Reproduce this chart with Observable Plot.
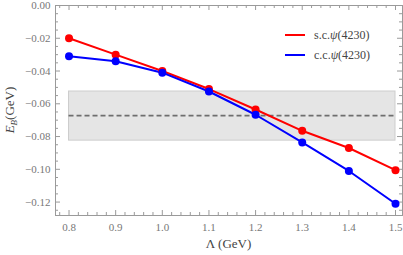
<!DOCTYPE html>
<html><head><meta charset="utf-8">
<script src="https://cdn.jsdelivr.net/npm/d3@7"></script>
<script src="https://cdn.jsdelivr.net/npm/@observablehq/plot@0.6"></script>
<style>body{margin:0;background:#fff} #chart{width:403px;height:255px}</style>
</head><body><div id="chart"></div>
<script>
const lambda = [0.8, 0.9, 1.0, 1.1, 1.2, 1.3, 1.4, 1.5];
const scValues = [-0.020, -0.030, -0.040, -0.051, -0.0635, -0.0765, -0.087, -0.1005];
const ccValues = [-0.031, -0.034, -0.041, -0.0525, -0.0667, -0.0836, -0.101, -0.121];
const seriesNames = ["s.c.", "c.c."];
const seriesLabel = "ψ(4230)";
const seriesColors = ["#ff0000", "#0000ff"];
const bandLow = -0.0825, bandHigh = -0.0525, bandMid = -0.0672;
const xTicks = [0.8, 0.9, 1.0, 1.1, 1.2, 1.3, 1.4, 1.5];
const yTicks = [0, -0.02, -0.04, -0.06, -0.08, -0.10, -0.12];

const xDomain = [0.771, 1.515];
const yDomain = [-0.1282, 0];
const W = 403, H = 255, mL = 55, mR = 1, mT = 5, mB = 40;

const data = [];
lambda.forEach((l, i) => {
  data.push({lambda: l, E: scValues[i], s: seriesNames[0]});
  data.push({lambda: l, E: ccValues[i], s: seriesNames[1]});
});
const band = [{x1: lambda[0], x2: lambda[lambda.length - 1], y1: bandLow, y2: bandHigh}];

const xMinor = d3.range(78, 151, 2).map(v => v / 100).filter(v => !xTicks.some(t => Math.abs(t - v) < 1e-9));
const yMinor = d3.range(-125, 1, 5).map(v => v / 1000).filter(v => !yTicks.some(t => Math.abs(t - v) < 1e-9));

const yPerPx = (yDomain[1] - yDomain[0]) / (H - mT - mB);
const xPerPx = (xDomain[1] - xDomain[0]) / (W - mL - mR);
const major = 5, minor = 3;
const axisColor = "#9a9a9a";

const chart = Plot.plot({
  width: W, height: H,
  marginLeft: mL, marginRight: mR, marginTop: mT, marginBottom: mB,
  style: {fontFamily: "'Liberation Serif', serif", fontSize: "11px", color: "#777", background: "#fff"},
  x: {domain: xDomain, label: null},
  y: {domain: yDomain, label: null},
  color: {domain: seriesNames, range: seriesColors},
  marks: [
    Plot.rect(band, {x1: "x1", x2: "x2", y1: "y1", y2: "y2", fill: "#e5e5e5", stroke: "#cdcdcd", strokeWidth: 1}),
    Plot.ruleY([bandMid], {x1: lambda[0], x2: lambda[lambda.length - 1], stroke: "#6e6e6e", strokeWidth: 1.6, strokeDasharray: "5,3"}),
    // ticks inward on all four sides
    Plot.ruleX(xTicks, {x: d => d, y1: yDomain[0], y2: yDomain[0] + major * yPerPx, stroke: axisColor}),
    Plot.ruleX(xMinor, {x: d => d, y1: yDomain[0], y2: yDomain[0] + minor * yPerPx, stroke: axisColor}),
    Plot.ruleX(xTicks, {x: d => d, y1: yDomain[1], y2: yDomain[1] - major * yPerPx, stroke: axisColor}),
    Plot.ruleX(xMinor, {x: d => d, y1: yDomain[1], y2: yDomain[1] - minor * yPerPx, stroke: axisColor}),
    Plot.ruleY(yTicks, {y: d => d, x1: xDomain[0], x2: xDomain[0] + major * xPerPx, stroke: axisColor}),
    Plot.ruleY(yMinor, {y: d => d, x1: xDomain[0], x2: xDomain[0] + minor * xPerPx, stroke: axisColor}),
    Plot.ruleY(yTicks, {y: d => d, x1: xDomain[1], x2: xDomain[1] - major * xPerPx, stroke: axisColor}),
    Plot.ruleY(yMinor, {y: d => d, x1: xDomain[1], x2: xDomain[1] - minor * xPerPx, stroke: axisColor}),
    Plot.axisX({ticks: xTicks, tickSize: 0, tickPadding: 8, tickFormat: d3.format(".1f"), fill: "#777"}),
    Plot.axisY({ticks: yTicks, tickSize: 0, tickPadding: 5, tickFormat: d => d === 0 ? "0.00" : d3.format(".2f")(d).replace("-", "−"), fill: "#777"}),
    Plot.frame({stroke: axisColor}),
    Plot.line(data, {x: "lambda", y: "E", stroke: "s", strokeWidth: 2}),
    Plot.dot(data, {x: "lambda", y: "E", fill: "s", r: 4})
  ]
});
document.getElementById("chart").appendChild(chart);

const svg = d3.select(chart);
// x label
svg.append("text").attr("x", (mL + W - mR) / 2).attr("y", 248)
  .attr("text-anchor", "middle").attr("font-family", "'Liberation Serif', serif")
  .attr("font-size", 13).attr("fill", "#444").text("Λ (GeV)");
// y label
const yl = svg.append("text").attr("transform", `translate(14,${(mT + H - mB) / 2}) rotate(-90)`)
  .attr("text-anchor", "middle").attr("font-family", "'Liberation Serif', serif")
  .attr("font-size", 13).attr("fill", "#444");
yl.append("tspan").attr("font-style", "italic").text("E");
yl.append("tspan").attr("font-style", "italic").attr("font-size", 9).attr("dy", 3).text("B");
yl.append("tspan").attr("dy", -3).text("(GeV)");
// legend
seriesNames.forEach((n, i) => {
  const y = 35 + i * 20;
  svg.append("line").attr("x1", 285).attr("x2", 305).attr("y1", y).attr("y2", y)
    .attr("stroke", seriesColors[i]).attr("stroke-width", 2);
  const t = svg.append("text").attr("x", 314).attr("y", y + 4).attr("text-anchor", "start")
    .attr("font-family", "'Liberation Serif', serif").attr("font-size", 12).attr("fill", "#444");
  t.append("tspan").text(n);
  t.append("tspan").attr("font-style", "italic").text(seriesLabel.slice(0, 1));
  t.append("tspan").text(seriesLabel.slice(1));
});
</script></body></html>
